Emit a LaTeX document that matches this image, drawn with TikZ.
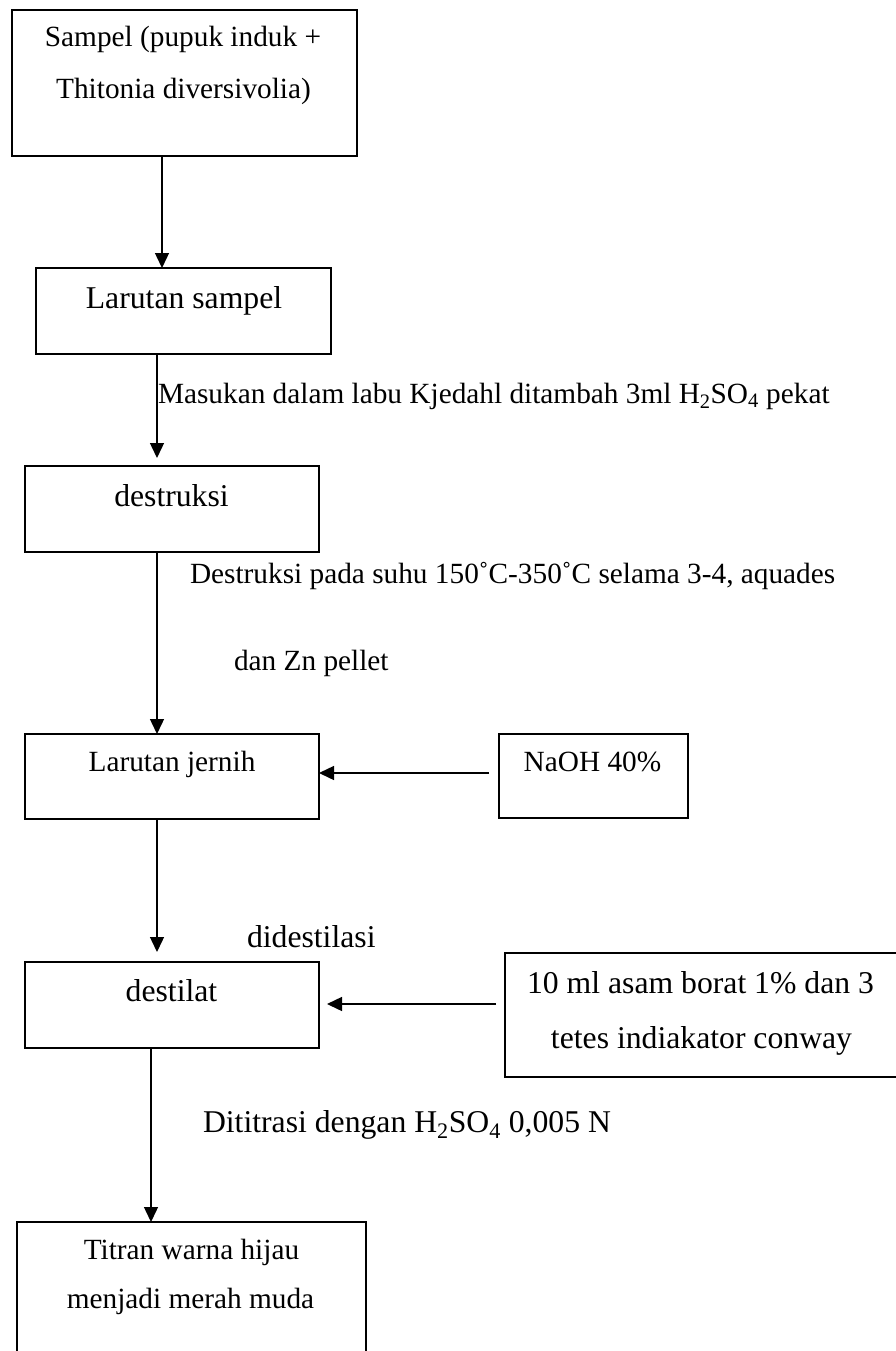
\documentclass[tikz,border=0pt]{standalone}
\usepackage{fontspec}
\setmainfont{Liberation Serif}
\usetikzlibrary{arrows.meta}
\tikzset{
  box/.style={draw, line width=1.8pt, rectangle, inner sep=0pt, outer sep=0pt},
  txts/.style={inner sep=0pt, outer sep=0pt, anchor=base, font=\fontsize{29.3}{35}\selectfont},
  txtb/.style={inner sep=0pt, outer sep=0pt, anchor=base, font=\fontsize{31.7}{38}\selectfont},
  lbls/.style={txts, anchor=base west},
  lblb/.style={txtb, anchor=base west},
  arr/.style={line width=1.4pt, -{Triangle[width=14pt,length=15pt]}}
}
\begin{document}
\begin{tikzpicture}[x=1pt,y=-1pt]
\useasboundingbox (0,0) rectangle (896,1351);
\fill[white] (0,0) rectangle (896,1351);
% boxes
\node[box, minimum width=345pt, minimum height=146pt] (b1) at (184.5,83) {};
\node[box, minimum width=295pt, minimum height=86pt] (b2) at (183.5,311) {};
\node[box, minimum width=294pt, minimum height=86pt] (b3) at (172,509) {};
\node[box, minimum width=294pt, minimum height=85pt] (b4) at (172,776.5) {};
\node[box, minimum width=189pt, minimum height=84pt] (bN) at (593.5,776) {};
\node[box, minimum width=294pt, minimum height=86pt] (b5) at (172,1005) {};
\node[box, minimum width=394pt, minimum height=124pt] (b6) at (702,1015) {};
\node[box, minimum width=349pt, minimum height=138pt] (b7) at (191.5,1291) {};
% box texts
\node[txts] (t1a) at (183,46.7) {Sampel (pupuk induk +};
\node[txts] (t1b) at (183.5,99) {Thitonia diversivolia)};
\node[txtb] (t2) at (184,308) {Larutan sampel};
\node[txtb] (t3) at (171.5,506) {destruksi};
\node[txts] (t4) at (172,771) {Larutan jernih};
\node[txts] (tN) at (592.5,771) {NaOH 40\%};
\node[txtb] (t5) at (171.5,1001) {destilat};
\node[txtb] (t6a) at (700.5,993) {10 ml asam borat 1\% dan 3};
\node[txtb] (t6b) at (701.5,1048) {tetes indiakator conway};
\node[txts] (t7a) at (191.5,1259) {Titran warna hijau};
\node[txts] (t7b) at (190.5,1308) {menjadi merah muda};
% labels
\node[lbls] (l2) at (158,403) {Masukan dalam labu Kjedahl ditambah 3ml H\textsubscript{2}SO\textsubscript{4} pekat};
\node[lbls] (l3a) at (190,583) {Destruksi pada suhu 150˚C-350˚C selama 3-4, aquades};
\node[lbls] (l3b) at (234,670) {dan Zn pellet};
\node[lblb] (l4) at (247,947) {didestilasi};
\node[lblb] (l5) at (203,1132) {Dititrasi dengan H\textsubscript{2}SO\textsubscript{4} 0,005 N};
% connector helper coordinates
\coordinate (cA) at (162,0);
\coordinate (cB) at (157,0);
\coordinate (cC) at (151,0);
\coordinate (yN) at (0,773);
\coordinate (y6) at (0,1004);
% connectors
\draw[arr] (b1.south -| cA) -- (b2.north -| cA);
\draw[arr, shorten >=8pt] (b2.south -| cB) -- (b3.north -| cB);
\draw[arr] (b3.south -| cB) -- (b4.north -| cB);
\draw[arr, shorten >=10pt] (b4.south -| cB) -- (b5.north -| cB);
\draw[arr, shorten <=10pt] (bN.west |- yN) -- (b4.east |- yN);
\draw[arr, shorten <=9pt, shorten >=8pt] (b6.west |- y6) -- (b5.east |- y6);
\draw[arr] (b5.south -| cC) -- (b7.north -| cC);
\end{tikzpicture}
\end{document}
